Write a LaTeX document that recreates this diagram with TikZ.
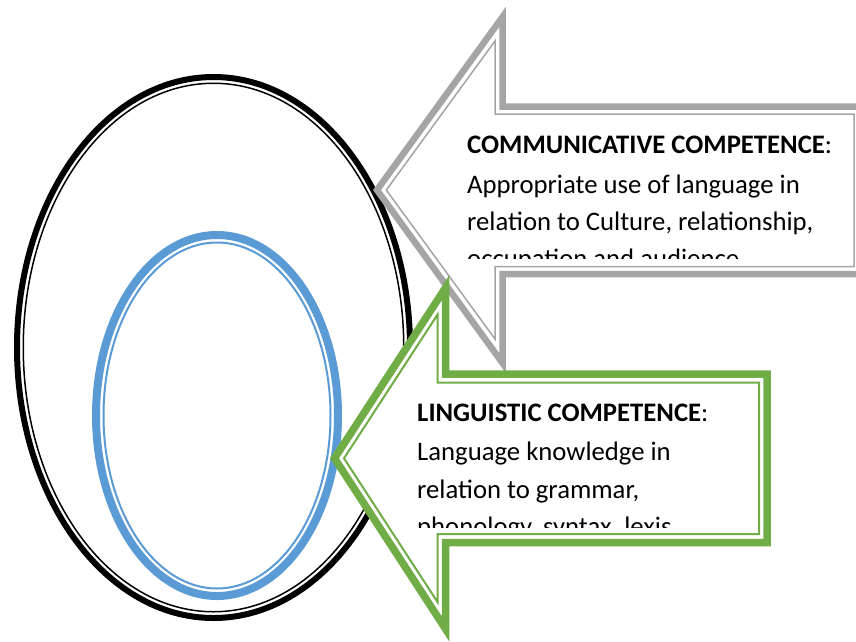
\documentclass[tikz,border=0pt]{standalone}
\usepackage{fontspec}
\setmainfont{Carlito}
\definecolor{grayc}{HTML}{A5A5A5}
\definecolor{greenc}{HTML}{70AD47}
\definecolor{bluec}{HTML}{5B9BD5}
\begin{document}
\begin{tikzpicture}[x=1pt,y=-1pt,
  thickline/.style={line width=#1, line join=miter},
  txt/.style={anchor=base west, inner sep=0pt, font=\fontsize{26.7}{37}\selectfont}]
\useasboundingbox (0,0) rectangle (856,641);
\fill[white] (0,0) rectangle (856,641);
% outer black ellipse (thick-thin)
\draw[black, line width=6pt] (213.5,347.5) ellipse [x radius=196.5pt, y radius=270.5pt];
\draw[black, line width=1.5pt] (213.5,347.5) ellipse [x radius=190.25pt, y radius=264.25pt];
% inner blue ellipse (thick-thin)
\draw[bluec, line width=8pt] (217,415.5) ellipse [x radius=121pt, y radius=180.5pt];
\draw[bluec, line width=2pt] (217,415.5) ellipse [x radius=113.5pt, y radius=173pt];
% gray arrow
\draw[thickline=6.5pt, draw=grayc, fill=white] (377,190) -- (502.5,17) -- (502.5,106.5) -- (870,106.5) -- (870,274) -- (502.5,274) -- (502.5,363) -- cycle;
\draw[thickline=1.5pt, draw=grayc] (386.3,190) -- (495,41) -- (495,114) -- (854,114) -- (854,266.5) -- (495,266.5) -- (495,339) -- cycle;
\begin{scope}
\clip (460,116) rectangle (852,258);
\node[txt] (c1) at (467,153) {\textbf{COMMUNICATIVE COMPETENCE}:};
\node[txt] (c2) at (467,193) {Appropriate use of language in};
\node[txt] (c3) at (467,230) {relation to Culture, relationship,};
\node[txt] (c4) at (467,267) {occupation and audience};
\end{scope}
% green arrow
\draw[thickline=7.5pt, draw=greenc, fill=white] (334.5,458.3) -- (445.5,287.75) -- (445.5,374) -- (767,374) -- (767,542.5) -- (445.5,542.5) -- (445.5,628.85) -- cycle;
\draw[thickline=2pt, draw=greenc] (344,458.3) -- (437.5,314.6) -- (437.5,382.5) -- (759,382.5) -- (759,534) -- (437.5,534) -- (437.5,602) -- cycle;
\begin{scope}
\clip (410,385) rectangle (756,527);
\node[txt] (l1) at (417,421) {\textbf{LINGUISTIC COMPETENCE}:};
\node[txt] (l2) at (417,460) {Language knowledge in};
\node[txt] (l3) at (417,498) {relation to grammar,};
\node[txt] (l4) at (417,535) {phonology, syntax, lexis};
\end{scope}
\end{tikzpicture}
\end{document}
